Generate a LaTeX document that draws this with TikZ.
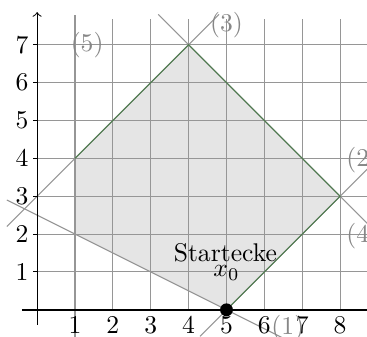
\documentclass[tikz,border=0pt]{standalone}
\definecolor{edgegreen}{RGB}{80,125,80}
\definecolor{feasfill}{RGB}{229,229,229}
\definecolor{gridgray}{RGB}{150,150,150}
\definecolor{labgray}{RGB}{135,135,135}
\begin{document}
\begin{tikzpicture}[x=0.52cm,y=0.52cm,
  gridline/.style={gridgray, line width=0.4pt},
  cline/.style={gridgray, line width=0.4pt},
  edgeline/.style={edgegreen, line width=0.4pt},
  lab/.style={labgray, inner sep=0pt},
  ticklab/.style={inner sep=0pt}]
\useasboundingbox (-0.98,-0.71) rectangle (8.71,8.18);
\clip (-0.98,-0.71) rectangle (8.71,8.18);
% feasible region
\fill[feasfill] (1,2) -- (1,4) -- (4,7) -- (8,3) -- (5,0) -- cycle;
% grid
\foreach \x in {2,...,8} {\draw[gridline] (\x,0) -- (\x,7.68);}
\foreach \y in {1,...,7} {\draw[gridline] (0,\y) -- (8.8,\y);}
% constraint lines
\coordinate (c1a) at (-0.8,2.9);  \coordinate (c1b) at (6.5,-0.75);
\coordinate (c2a) at (4.3,-0.7);  \coordinate (c2b) at (9,4);
\coordinate (c3a) at (-0.8,2.2);  \coordinate (c3b) at (4.8,7.8);
\coordinate (c4a) at (3.2,7.8);   \coordinate (c4b) at (9,2);
\coordinate (c5a) at (1,-0.8);    \coordinate (c5b) at (1,7.78);
\draw[cline] (c1a) -- (c1b);
\draw[cline] (c2a) -- (c2b);
\draw[cline] (c3a) -- (c3b);
\draw[cline] (c4a) -- (c4b);
\draw[cline] (c5a) -- (c5b);
% green edges
\coordinate (v1) at (1,4); \coordinate (v2) at (4,7);
\coordinate (v3) at (8,3); \coordinate (v4) at (5,0);
\draw[edgeline] (v1) -- (v2) -- (v3) -- (v4);
% axes
\coordinate (ya) at (0,-0.4); \coordinate (yb) at (0,7.86);
\coordinate (xa) at (-0.4,0); \coordinate (xb) at (9,0);
\draw[->, line width=0.4pt] (ya) -- (yb);
\draw[line width=0.7pt] (xa) -- (xb);
\foreach \y in {1,...,7} {
  \draw[line width=0.4pt] (-0.1,\y) -- (0,\y);
  \node[ticklab] (ylab\y) at (-0.4,\y) {\y};
}
\foreach \x in {1,...,8} {
  \node[ticklab] (xlab\x) at (\x,-0.4) {\x};
}
% constraint labels
\node[lab] (l1) at (6.62,-0.48) {(1)};
\node[lab] (l2) at (8.6,3.96) {(2)};
\node[lab] (l3) at (5.0,7.52) {(3)};
\node[lab] (l4) at (8.6,1.95) {(4)};
\node[lab] (l5) at (1.32,7.0) {(5)};
% start vertex
\node[circle, fill=black, inner sep=0pt, minimum size=0.34*0.52cm] (x0) at (5,0) {};
\node[anchor=base] (st) at (4.97,1.27) {Startecke};
\node[anchor=base] (xz) at (5,0.87) {$x_0$};
\end{tikzpicture}
\end{document}
